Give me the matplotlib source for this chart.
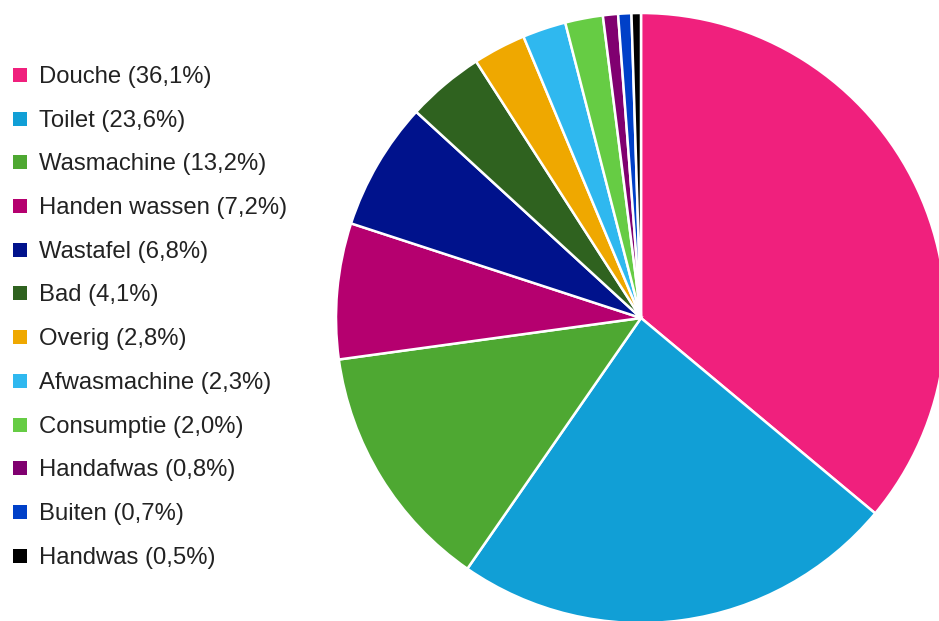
import matplotlib.pyplot as plt
from matplotlib.patches import Rectangle

plt.rcParams['font.family'] = ['Liberation Sans', 'DejaVu Sans']

# gegevens
labels = ['Douche', 'Toilet', 'Wasmachine', 'Handen wassen', 'Wastafel', 'Bad',
          'Overig', 'Afwasmachine', 'Consumptie', 'Handafwas', 'Buiten', 'Handwas']
values = [36.1, 23.6, 13.2, 7.2, 6.8, 4.1, 2.8, 2.3, 2.0, 0.8, 0.7, 0.5]
colors = ['#F0207D', '#119FD6', '#4EA832', '#B5006F', '#00128C', '#2F621F',
          '#EFA800', '#2FB8EF', '#66CC44', '#800070', '#0040C8', '#000000']

W, H = 939, 621
fig = plt.figure(figsize=(W / 100, H / 100), dpi=100)

# taart: middelpunt (641, 318), straal 305 px
cx, cy, r = 641, 318, 305
ax = fig.add_axes([(cx - r) / W, (H - cy - r) / H, 2 * r / W, 2 * r / H])
ax.pie(values, colors=colors, startangle=90, counterclock=False, radius=1,
       wedgeprops=dict(edgecolor='white', linewidth=1.8))
ax.set_xlim(-1, 1)
ax.set_ylim(-1, 1)
ax.set_aspect('equal')
ax.axis('off')

# legenda links
y0, step = 75, 43.7
for i, (lab, val, col) in enumerate(zip(labels, values, colors)):
    y = y0 + i * step
    fig.patches.append(Rectangle((13 / W, 1 - (y + 7) / H), 14 / W, 14 / H,
                                 transform=fig.transFigure, facecolor=col,
                                 edgecolor='none'))
    txt = f'{lab} ({val:.1f}%)'.replace('.', ',')
    fig.text(39 / W, 1 - (y + 2) / H, txt, fontsize=17.2, color='#222222',
             ha='left', va='center')

fig.savefig('out.png', dpi=100)
